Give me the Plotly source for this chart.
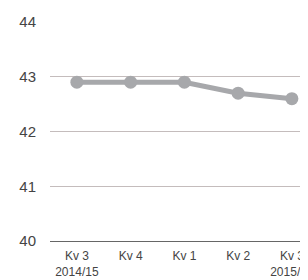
import plotly.graph_objects as go

categories = ["Kv 3<br>2014/15", "Kv 4", "Kv 1", "Kv 2", "Kv 3<br>2015/16"]
values = [42.9, 42.9, 42.9, 42.7, 42.6]
y_ticks = [40, 41, 42, 43, 44]

fig = go.Figure()
fig.add_trace(go.Scatter(
    x=list(range(len(categories))), y=values, mode="lines+markers",
    line=dict(color="#a7a8ab", width=5),
    marker=dict(color="#a7a8ab", size=13),
    cliponaxis=False, showlegend=False,
))
fig.update_layout(
    width=300, height=272,
    margin=dict(l=42, r=0, t=14, b=39, autoexpand=False),
    plot_bgcolor="white", paper_bgcolor="white",
    font=dict(family="Liberation Sans, Arial, sans-serif", color="#444"),
    xaxis=dict(
        tickmode="array", tickvals=list(range(len(categories))), ticktext=categories,
        range=[-0.5, 4.3], showgrid=False, zeroline=False, automargin=False,
        showline=True, linecolor="#666", linewidth=1, ticklabeloverflow="allow",
        tickfont=dict(size=12), ticks="outside", ticklen=4, tickcolor="white",
    ),
    yaxis=dict(
        range=[40, 44], tickvals=y_ticks, showgrid=True, gridcolor="#c4bcbc",
        gridwidth=1, zeroline=False, tickfont=dict(size=15), automargin=False,
        ticks="outside", ticklen=10, tickcolor="white",
    ),
)
fig.write_html("out.html")
